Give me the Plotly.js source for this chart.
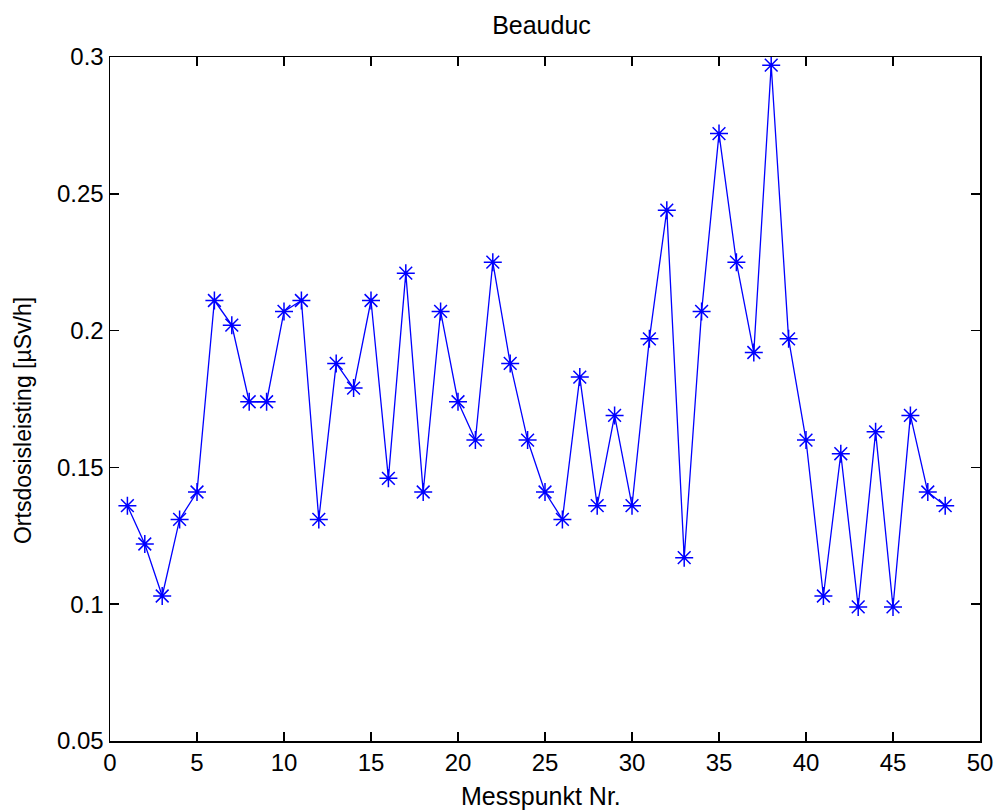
<!DOCTYPE html>
<html>
<head>
<meta charset="utf-8">
<script src="https://cdn.plot.ly/plotly-3.0.1.min.js"></script>
<style>html,body{margin:0;padding:0;background:#fff;}#chart{width:995px;height:811px;}</style>
</head>
<body>
<div id="chart"></div>
<script>
const messpunkt = [1,2,3,4,5,6,7,8,9,10,11,12,13,14,15,16,17,18,19,20,21,22,23,24,25,26,27,28,29,30,31,32,33,34,35,36,37,38,39,40,41,42,43,44,45,46,47,48];
const dosis = [0.136,0.122,0.103,0.131,0.141,0.211,0.202,0.174,0.174,0.207,0.211,0.131,0.188,0.179,0.211,0.146,0.221,0.141,0.207,0.174,0.160,0.225,0.188,0.160,0.141,0.131,0.183,0.136,0.169,0.136,0.197,0.244,0.117,0.207,0.272,0.225,0.192,0.297,0.197,0.160,0.103,0.155,0.099,0.163,0.099,0.169,0.141,0.136];
const xTicks = [0,5,10,15,20,25,30,35,40,45,50];
const yTicks = [0.05,0.1,0.15,0.2,0.25,0.3];
const yTickText = ['0.05','0.1','0.15','0.2','0.25','0.3'];
const xTitle = 'Messpunkt Nr.';
const yTitle = 'Ortsdosisleisting [µSv/h]';

const FONT = 'Liberation Sans, Arial, sans-serif';
const trace = {
  x: messpunkt, y: dosis, type: 'scatter', mode: 'lines+markers',
  line: {color: '#0000ff', width: 1.3},
  marker: {symbol: 'asterisk-open', size: 15, color: '#0000ff', line: {color: '#0000ff', width: 1.5}},
  showlegend: false, cliponaxis: false
};
const layout = {
  width: 995, height: 811,
  margin: {l: 110, r: 15, t: 57, b: 70},
  paper_bgcolor: '#fff', plot_bgcolor: '#fff',
  title: {text: 'Beauduc', x: 0.5442, xanchor: 'center', y: 0.969, yanchor: 'middle',
          font: {family: FONT, size: 25, color: '#000'}},
  xaxis: {
    range: [0, 50], tickvals: xTicks, ticktext: xTicks.map(String),
    ticks: 'inside', ticklen: 9, tickwidth: 1.5, tickcolor: '#000',
    showline: true, linecolor: '#000', linewidth: 1.5, mirror: 'ticks',
    showgrid: false, zeroline: false,
    tickfont: {family: FONT, size: 24, color: '#000'}
  },
  yaxis: {
    range: [0.05, 0.3], tickvals: yTicks, ticktext: yTickText,
    ticks: 'inside', ticklen: 9, tickwidth: 1.5, tickcolor: '#000',
    showline: true, linecolor: '#000', linewidth: 1.5, mirror: 'ticks',
    showgrid: false, zeroline: false,
    tickfont: {family: FONT, size: 24, color: '#000'}
  },
  annotations: [{
    text: yTitle, textangle: -90, showarrow: false,
    xref: 'paper', yref: 'paper', x: -0.1, y: 0.4678,
    xanchor: 'center', yanchor: 'middle',
    font: {family: FONT, size: 23, color: '#000'}
  }, {
    text: xTitle, showarrow: false,
    xref: 'paper', yref: 'paper', x: 0.4954, y: -0.1023,
    xanchor: 'center', yanchor: 'bottom', borderpad: 0,
    font: {family: FONT, size: 25, color: '#000'}
  }]
};
Plotly.newPlot('chart', [trace], layout, {displayModeBar: false, staticPlot: true});
</script>
</body>
</html>
